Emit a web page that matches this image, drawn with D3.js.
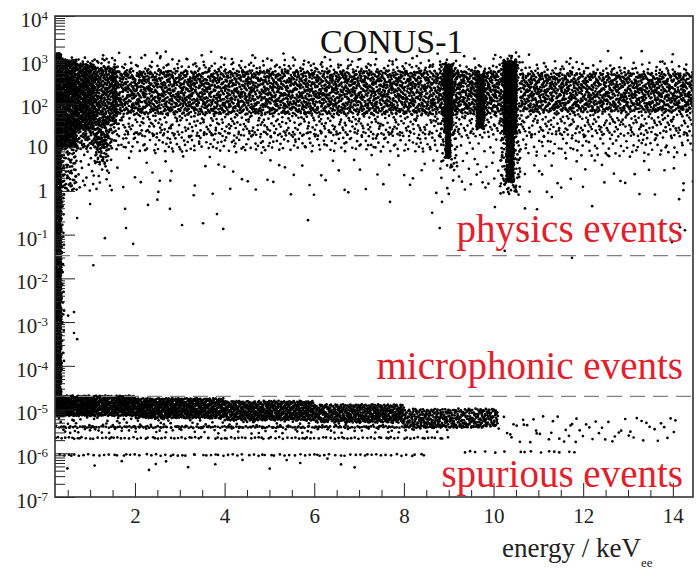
<!DOCTYPE html>
<html>
<head>
<meta charset="utf-8">
<script src="https://cdnjs.cloudflare.com/ajax/libs/d3/7.8.5/d3.min.js"></script>
<style>
    body { margin: 0; background: #fff; }
</style>
</head>
<body>
<script>
//wrap everything in a self-executing anonymous function
(function(){
    //axis tick labels
    var xTickValues = [2, 4, 6, 8, 10, 12, 14];
    var yTickValues = [1e4, 1e3, 1e2, 10, 1, 1e-1, 1e-2, 1e-3, 1e-4, 1e-5, 1e-6, 1e-7];
    var yTickBase = ["10", "10", "10", "10", "1", "10", "10", "10", "10", "10", "10", "10"];
    var yTickExp = ["4", "3", "2", "", "", "-1", "-2", "-3", "-4", "-5", "-6", "-7"];

    //event class cuts (dashed lines) and their labels
    var cutValues = [0.033, 2.0e-5];
    var classLabels = ["physics events", "microphonic events", "spurious events"];
    var titleText = "CONUS-1";

    //point clouds: energy range (keV), log10 range, number of events
    //  0-30 physics band (0 also holds the microphonic threshold column), 31-42 spurious band
    var cloudEmin = [0.22, 0.36, 0.36, 0.70, 0.70, 1.10, 0.70, 1.50, 1.50, 1.50, 1.50, 1.50,
                     8.90, 8.93, 8.80, 9.62, 8.80, 8.80, 10.22, 10.28, 10.15, 10.60, 10.60, 10.60, 10.20, 8.80, 10.60,
                     0.36, 1.50, 0.22, 1.10,
                     0.22, 2.00, 4.00, 6.00, 8.00, 0.22, 0.22, 0.22, 0.22, 10.10, 9.30, 0.22];
    var cloudEmax = [0.36, 0.70, 0.70, 1.10, 1.50, 1.40, 1.50, 8.80, 8.80, 8.80, 8.80, 8.80,
                     9.08, 9.04, 9.20, 9.80, 10.20, 10.20, 10.52, 10.46, 10.60, 14.45, 14.45, 14.45, 14.45, 10.20, 14.45,
                     1.50, 14.45, 0.42, 1.60,
                     2.00, 4.00, 6.00, 8.00, 10.10, 9.80, 9.00, 8.50, 9.00, 14.10, 12.00, 7.50];
    var cloudLogMin = [-4.75, 1.00, 0.00, 1.40, 0.95, 0.60, 0.00, 1.75, 1.25, 0.90, -0.10, 2.88,
                       1.40, 0.75, 0.50, 1.40, 1.75, 1.20, 1.30, 0.20, -0.10, 1.80, 1.25, 0.80, -0.10, 0.00, 2.80,
                       2.90, 2.95, -4.20, 1.50,
                       -5.15, -5.20, -5.25, -5.30, -5.40, -5.42, -5.67, -6.06, -5.55, -5.75, -5.99, -6.40];
    var cloudLogMax = [3.15, 3.00, 1.00, 2.90, 1.45, 1.60, 1.00, 2.75, 2.90, 1.35, 0.90, 3.05,
                       2.90, 1.40, 3.00, 2.70, 2.75, 2.90, 2.98, 1.30, 3.10, 2.70, 2.82, 1.30, 0.80, 1.20, 2.98,
                       3.05, 3.20, 0.50, 2.85,
                       -4.68, -4.74, -4.80, -4.88, -4.98, -5.38, -5.63, -6.02, -5.15, -5.15, -5.95, -6.10];
    var cloudCount = [1000, 540, 70, 420, 110, 70, 32, 1900, 1150, 230, 60, 40,
                      280, 90, 100, 160, 410, 230, 520, 170, 200, 900, 600, 95, 37, 40, 25,
                      25, 30, 100, 300,
                      740, 720, 570, 460, 350, 200, 110, 80, 200, 60, 15, 15];

    //isolated events read one by one: energy (keV), log10 value
    var outlierEnergy = [1.07, 1.33, 1.96, 1.80, 0.71, 3.05, 3.52, 3.83, 3.97, 1.00, 2.29, 2.50, 2.78, 1.78,
                         7.69, 8.63, 8.85, 8.80, 9.00, 10.03, 10.70, 10.97, 10.74, 11.30, 12.20, 14.14,
                         14.16, 14.27, 13.98, 11.75, 10.25, 5.86, 0.64, 0.51, 0.64, 0.71,
                         1.29, 1.89, 2.49, 3.49, 5.57, 8.96, 10.00];
    var outlierLog = [-1.70, -1.08, -1.21, -0.85, -0.62, -0.78, -0.74, -0.53, -0.87, -0.30, -0.32, -0.20, -0.41, -0.41,
                      -0.25, -0.50, -0.25, -0.85, -0.07, -0.37, -0.40, -0.42, -0.96, -0.14, -0.35, -0.19,
                      -0.83, -0.90, -1.17, -1.53, -1.37, -0.67, -2.77, -2.85, -3.25, -3.39,
                      3.10, 3.06, 3.15, 3.10, 3.00, 3.00, 3.02];

    var serifFont = "Times New Roman, serif";

    //begin script when window loads
    window.onload = drawChart();

    //van der Corput / Halton radical inverse, used to spread a cloud's events evenly
    function radicalInverse(i, base){
        var f = 1, r = 0;
        while (i > 0){
            f = f / base;
            r += f * (i % base);
            i = Math.floor(i / base);
        }
        return r;
    }

    function drawChart(){
        //frame dimensions
        var svgWidth = 697,
            svgHeight = 574,
            left = 55,
            top = 16,
            innerWidth = 638,
            innerHeight = 481;

        var svg = d3.select("body")
            .append("svg")
            .attr("width", svgWidth)
            .attr("height", svgHeight)
            .attr("font-family", serifFont);

        var x = d3.scaleLinear()
            .domain([0.216, 14.45])
            .range([0, innerWidth]);

        var y = d3.scaleLog()
            .domain([1e-7, 1e4])
            .range([innerHeight, 0]);

        var plot = svg.append("g")
            .attr("transform", "translate(" + left + "," + top + ")");

        plot.append("clipPath")
            .attr("id", "frameClip")
            .append("rect")
            .attr("width", innerWidth)
            .attr("height", innerHeight);

        //lay the events of each cloud out evenly inside its range, in roughly square tiles
        var dots = [];
        for (var k = 0; k < cloudCount.length; k++){
            var px0 = x(cloudEmin[k]), px1 = x(cloudEmax[k]),
                py0 = y(Math.pow(10, cloudLogMax[k])), py1 = y(Math.pow(10, cloudLogMin[k])),
                w = px1 - px0, h = py1 - py0,
                perTile = Math.max(1, Math.floor(cloudCount[k] / 4)),
                tilesX = Math.max(1, Math.min(Math.round(w / h), perTile)),
                tilesY = Math.max(1, Math.min(Math.round(h / w), perTile)),
                nTiles = tilesX * tilesY;
            for (var i = 0; i < cloudCount[k]; i++){
                var t = i % nTiles,
                    n = Math.floor(i / nTiles) + 1 + k * 7919 + t * 997,
                    tx = t % tilesX,
                    ty = Math.floor(t / tilesX),
                    u = (tx + radicalInverse(n, 2)) / tilesX,
                    v = (ty + radicalInverse(n, 3)) / tilesY;
                dots.push({
                    e: x.invert(px0 + u * w),
                    lg: Math.log10(y.invert(py0 + v * h))
                });
            }
        }
        for (var j = 0; j < outlierEnergy.length; j++){
            dots.push({e: outlierEnergy[j], lg: outlierLog[j]});
        }

        plot.append("g")
            .attr("clip-path", "url(#frameClip)")
            .selectAll("circle")
            .data(dots)
            .enter()
            .append("circle")
            .attr("cx", d => x(d.e))
            .attr("cy", d => y(Math.pow(10, d.lg)))
            .attr("r", 1.35)
            .style("fill", "#000");

        //dashed class cuts
        plot.selectAll(".cut")
            .data(cutValues)
            .enter()
            .append("line")
            .attr("class", "cut")
            .attr("x1", 0)
            .attr("x2", innerWidth)
            .attr("y1", d => y(d))
            .attr("y2", d => y(d))
            .style("stroke", "#808080")
            .style("stroke-width", 1.3)
            .style("stroke-dasharray", "15,8");

        //minor tick positions
        var yMinor = [];
        for (var p = -7; p < 4; p++){
            for (var m = 2; m < 10; m++) yMinor.push(m * Math.pow(10, p));
        }
        var xMinor = d3.range(0.5, 14.5, 0.5).filter(d => d % 2 !== 0);

        //y axis, ticks pointing inside
        plot.append("g")
            .attr("class", "axis")
            .call(d3.axisLeft(y).tickValues(yTickValues).tickSize(-20).tickSizeOuter(0).tickFormat(""));
        plot.append("g")
            .attr("class", "axis")
            .call(d3.axisLeft(y).tickValues(yMinor).tickSize(-10).tickSizeOuter(0).tickFormat(""));

        //x axis, ticks pointing inside
        var xAxis = plot.append("g")
            .attr("class", "axis")
            .attr("transform", "translate(0," + innerHeight + ")")
            .call(d3.axisBottom(x).tickValues(xTickValues).tickSize(-14).tickSizeOuter(0).tickPadding(11));
        plot.append("g")
            .attr("class", "axis")
            .attr("transform", "translate(0," + innerHeight + ")")
            .call(d3.axisBottom(x).tickValues(xMinor).tickSize(-7).tickSizeOuter(0).tickFormat(""));

        plot.selectAll(".axis").attr("font-family", serifFont);
        plot.selectAll(".axis .domain").remove();
        plot.selectAll(".axis line").style("stroke", "#222").style("stroke-width", 1);
        xAxis.selectAll("text")
            .style("font-size", "21px")
            .style("fill", "#222");

        //y tick labels with superscript exponents
        var yLabels = plot.selectAll(".ylabel")
            .data(yTickValues)
            .enter()
            .append("text")
            .attr("class", "ylabel")
            .attr("x", -7)
            .attr("y", d => y(d))
            .attr("dy", (d, i) => yTickExp[i] ? "0.52em" : "0.33em")
            .attr("text-anchor", "end")
            .style("font-size", "21px")
            .style("fill", "#222");
        yLabels.append("tspan")
            .text((d, i) => yTickBase[i]);
        yLabels.append("tspan")
            .attr("dy", "-0.55em")
            .style("font-size", "13px")
            .text((d, i) => yTickExp[i]);

        //frame
        plot.append("rect")
            .attr("width", innerWidth)
            .attr("height", innerHeight)
            .style("fill", "none")
            .style("stroke", "#333")
            .style("stroke-width", 1.6);

        //title
        svg.append("text")
            .attr("x", 320)
            .attr("y", 53)
            .style("font-size", "34px")
            .style("fill", "#111")
            .text(titleText);

        //class labels
        var labelBaselines = [242, 379, 487];
        svg.selectAll(".classLabel")
            .data(classLabels)
            .enter()
            .append("text")
            .attr("class", "classLabel")
            .attr("x", 683)
            .attr("y", (d, i) => labelBaselines[i])
            .attr("text-anchor", "end")
            .style("font-size", "39px")
            .style("fill", "#e2202c")
            .text(d => d);

        //x axis title with subscript
        var xTitle = svg.append("text")
            .attr("x", 502)
            .attr("y", 557)
            .style("font-size", "27px")
            .style("fill", "#222");
        xTitle.append("tspan").text("energy / keV");
        xTitle.append("tspan")
            .attr("dy", 10)
            .style("font-size", "13px")
            .text("ee");
    }
})();
</script>
</body>
</html>
